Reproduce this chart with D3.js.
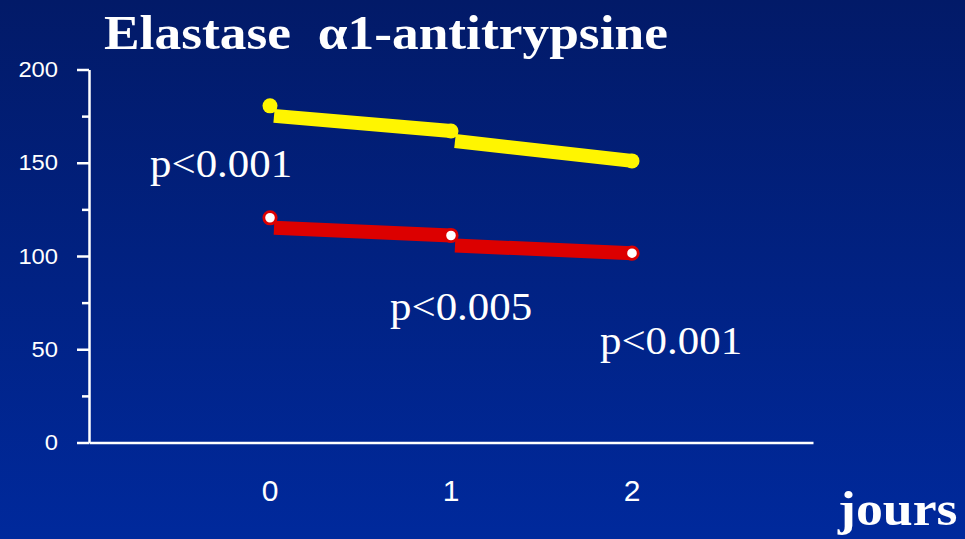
<!DOCTYPE html>
<html>
<head>
<meta charset="utf-8">
<script src="https://cdn.jsdelivr.net/npm/d3@7/dist/d3.min.js"></script>
<style>
  html, body { margin: 0; padding: 0; background: #00237f; }
  svg { display: block; }
</style>
</head>
<body>
<svg id="chart" width="965" height="539"></svg>
<script>
// Days of follow-up and the two measured series
const days = [0, 1, 2];
const elastaseValues = [180.5, 167, 151];       // yellow series
const antitrypsineValues = [120.5, 111, 101.5]; // red series
const yTickValues = [0, 50, 100, 150, 200];
const xTickLabels = ["0", "1", "2"];
const pValueLabels = ["p<0.001", "p<0.005", "p<0.001"];
const titleText = "Elastase  \u03b11-antitrypsine";
const xAxisTitle = "jours";

const W = 965, H = 539;

const svg = d3.select("#chart");

// Background gradient, dark navy at the top to brighter blue at the bottom
const defs = svg.append("defs");
const grad = defs.append("linearGradient")
  .attr("id", "bg").attr("x1", 0).attr("y1", 0).attr("x2", 0).attr("y2", 1);
grad.append("stop").attr("offset", "0%").attr("stop-color", "#021a68");
grad.append("stop").attr("offset", "100%").attr("stop-color", "#00299c");
svg.append("rect").attr("width", W).attr("height", H).attr("fill", "url(#bg)");

// Scales
const x = d3.scaleLinear().domain([-1, 3]).range([89, 813]);
const y = d3.scaleLinear().domain([0, 200]).range([442.5, 69.5]);

// Helper for (optionally widened) text
function wideText(g, px, py, txt, opts) {
  const sx = opts.stretch || 1;
  return g.append("text")
    .attr("transform", `translate(${px},${py}) scale(${sx},1)`)
    .attr("fill", "#fff")
    .attr("font-family", opts.family)
    .attr("font-size", opts.size)
    .attr("font-weight", opts.weight || "normal")
    .attr("text-anchor", opts.anchor || "start")
    .style("white-space", "pre")
    .text(txt);
}

const SANS = "'Liberation Sans', Arial, sans-serif";
const SERIF = "'Liberation Serif', 'Times New Roman', serif";

// Y axis: major ticks every 50 with labels, minor ticks in between
const yAxis = svg.append("g").attr("transform", `translate(${x(-1)},0)`);
yAxis.call(d3.axisLeft(y).tickValues(d3.range(0, 201, 25)).tickSizeOuter(0)
  .tickSize(0).tickFormat(""));
yAxis.select(".domain").attr("stroke", "#fff").attr("stroke-width", 2.5);
yAxis.selectAll(".tick line")
  .attr("x2", d => (d % 50 === 0 ? -12 : -7))
  .attr("stroke", "#fff").attr("stroke-width", 2.5);
yTickValues.forEach(v => {
  wideText(svg, 58, y(v) + 7.5, String(v), { family: SANS, size: 22, anchor: "end", stretch: 1.08 });
});

// X axis: plain baseline with day labels underneath
const xAxis = svg.append("g").attr("transform", `translate(0,${y(0)})`);
xAxis.call(d3.axisBottom(x).tickValues([]).tickSizeOuter(0));
xAxis.select(".domain").attr("stroke", "#fff").attr("stroke-width", 2.5);
days.forEach((d, i) => {
  wideText(svg, x(d), 501, xTickLabels[i], { family: SANS, size: 30, anchor: "middle" });
});

// Series drawn as thick offset segments with markers on top
function drawSeries(values, color, hollow) {
  const g = svg.append("g");
  const pts = days.map((d, i) => [d, values[i]]);
  g.selectAll("path.seg").data(d3.pairs(pts)).join("path")
    .attr("class", "seg")
    .attr("d", ([a, b]) => d3.line()([[x(a[0]) + 4, y(a[1]) + 10], [x(b[0]), y(b[1])]]))
    .attr("stroke", color).attr("stroke-width", 14)
    .attr("stroke-linecap", "butt").attr("fill", "none");
  g.selectAll("circle").data(pts).join("circle")
    .attr("cx", p => x(p[0])).attr("cy", p => y(p[1]))
    .attr("r", hollow ? 6.2 : 7.5)
    .attr("fill", hollow ? "#fff" : color)
    .attr("stroke", hollow ? color : "none")
    .attr("stroke-width", hollow ? 2.8 : 0);
}
drawSeries(elastaseValues, "#fff500", false);
drawSeries(antitrypsineValues, "#dc0000", true);

// Significance annotations, anchored in data space
const pAnchors = [[-0.663, 142.3], [0.663, 65.7], [1.823, 47.5]];
pValueLabels.forEach((t, i) => {
  wideText(svg, x(pAnchors[i][0]), y(pAnchors[i][1]), t,
    { family: SERIF, size: 39, stretch: 1.1 });
});

// Title and axis name
wideText(svg, 104, 49, titleText, { family: SERIF, size: 49, weight: "bold", stretch: 1.09 });
wideText(svg, 838, 525, xAxisTitle, { family: SERIF, size: 48, weight: "bold", stretch: 1.12 });
</script>
</body>
</html>
